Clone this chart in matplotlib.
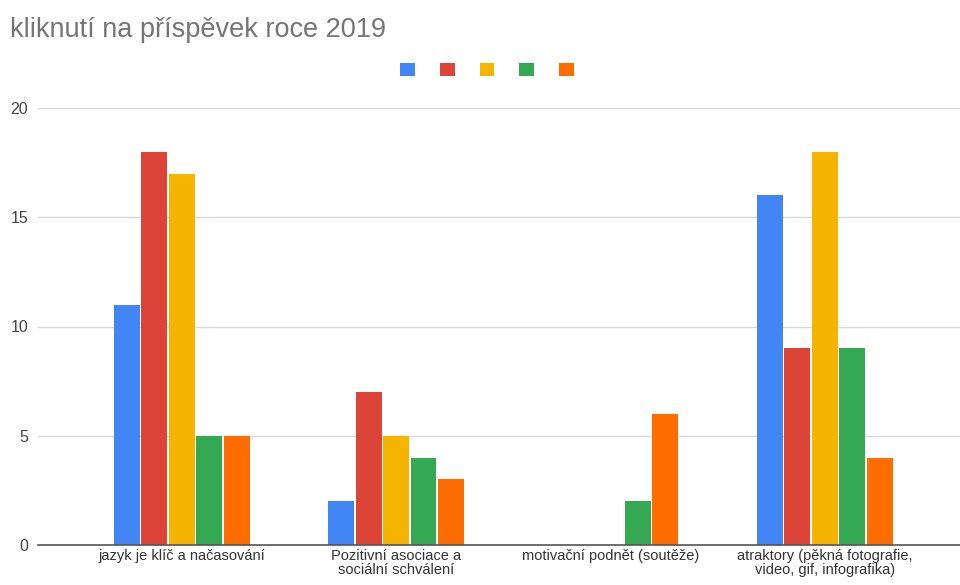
import matplotlib
matplotlib.use("Agg")
import matplotlib.pyplot as plt
from matplotlib.patches import Patch
import numpy as np

plt.rcParams['font.family'] = ['Liberation Sans', 'DejaVu Sans']

title = "kliknutí na příspěvek roce 2019"
categories = ["jazyk je klíč a načasování",
              "Pozitivní asociace a\nsociální schválení",
              "motivační podnět (soutěže)",
              "atraktory (pěkná fotografie,\nvideo, gif, infografika)"]
series1 = [11, 2, 0, 16]
series2 = [18, 7, 0, 9]
series3 = [17, 5, 0, 18]
series4 = [5, 4, 2, 9]
series5 = [5, 3, 6, 4]
series = [series1, series2, series3, series4, series5]
colors = ["#4285F4", "#DB4437", "#F4B400", "#34A853", "#FF6D01"]
yticks = [0, 5, 10, 15, 20]

fig = plt.figure(figsize=(9.6, 5.85), dpi=100)
ax = fig.add_axes([38/960, 40/585, 1 - 38/960, (545 - 108)/585])

x = np.arange(len(categories))
step = 0.128
width = 0.121
for i, (vals, c) in enumerate(zip(series, colors)):
    ax.bar(x + (i - 2) * step, vals, width=width, color=c, zorder=3)

ax.set_ylim(0, 20)
ax.set_xlim(-0.67, 3.63)
ax.set_yticks(yticks)
ax.set_yticklabels([str(t) for t in yticks], fontsize=11.5, color="#444444")
ax.set_xticks(x)
ax.set_xticklabels(categories, fontsize=10.5, color="#333333", linespacing=0.97)
ax.tick_params(axis='both', length=0)
ax.tick_params(axis='y', pad=7)
ax.tick_params(axis='x', pad=3)
ax.grid(axis='y', color="#d9d9d9", linewidth=1, zorder=0)
for s in ['top', 'right', 'left']:
    ax.spines[s].set_visible(False)
ax.spines['bottom'].set_color("#555555")
ax.spines['bottom'].set_linewidth(1.2)
ax.spines['bottom'].set_zorder(4)

fig.text(10/960, 1 - 30/585, title, fontsize=19.5, color="#757575", va='center', ha='left')

handles = [Patch(facecolor=c, edgecolor='none') for c in colors]
fig.legend(handles, [''] * 5, ncol=5, loc='center', bbox_to_anchor=(487/960, 1 - 70/585),
           frameon=False, fontsize=10.5, handlelength=1.0, handleheight=1.0,
           handletextpad=0.0, columnspacing=1.72, borderpad=0)

fig.savefig("out.png", dpi=100, facecolor="white")
